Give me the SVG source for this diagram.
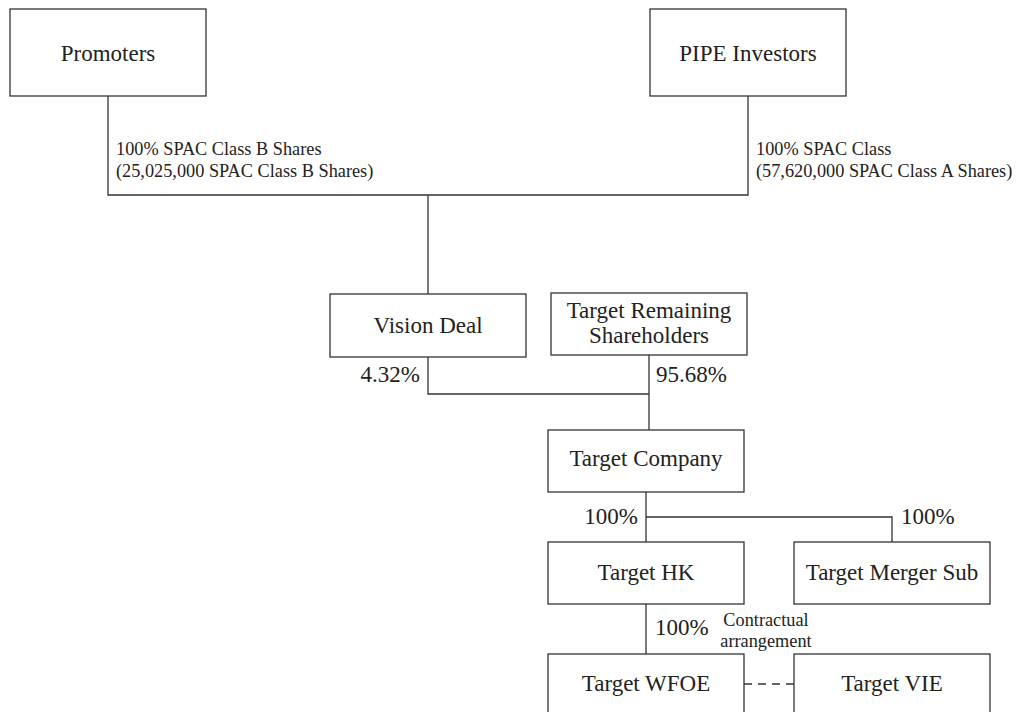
<svg xmlns="http://www.w3.org/2000/svg" width="1022" height="712" viewBox="0 0 1022 712">
  <style>
    .box { fill: #ffffff; stroke: #333333; stroke-width: 1.3; }
    .ln { fill: none; stroke: #333333; stroke-width: 1.3; }
    .dash { fill: none; stroke: #333333; stroke-width: 1.3; stroke-dasharray: 8 6; }
    .t { font-family: "Liberation Serif", "Times New Roman", serif; font-size: 23px; fill: #222222; text-anchor: middle; }
    .pct { font-family: "Liberation Serif", "Times New Roman", serif; font-size: 23px; fill: #222222; }
    .sm { font-family: "Liberation Serif", "Times New Roman", serif; font-size: 18.3px; fill: #222222; }
  </style>
  <rect width="1022" height="712" fill="#ffffff"/>

  <g id="connectors">
    <polyline class="ln" points="108,96 108,195 748,195 748,96"/>
    <line class="ln" x1="428" y1="195" x2="428" y2="294"/>
    <polyline class="ln" points="428,357 428,394 649,394"/>
    <line class="ln" x1="649" y1="355" x2="649" y2="430"/>
    <line class="ln" x1="646" y1="492" x2="646" y2="542"/>
    <polyline class="ln" points="646,517 892,517 892,542"/>
    <line class="ln" x1="646" y1="604" x2="646" y2="654"/>
    <line class="dash" x1="744" y1="684" x2="794" y2="684"/>
  </g>

  <g id="labels">
    <text class="sm" x="116" y="155">100% SPAC Class B Shares</text>
    <text class="sm" x="116" y="177">(25,025,000 SPAC Class B Shares)</text>
    <text class="sm" x="756" y="155">100% SPAC Class</text>
    <text class="sm" x="756" y="177">(57,620,000 SPAC Class A Shares)</text>
    <text class="pct" x="420" y="382" text-anchor="end">4.32%</text>
    <text class="pct" x="656" y="382">95.68%</text>
    <text class="pct" x="638" y="524" text-anchor="end">100%</text>
    <text class="pct" x="901" y="524">100%</text>
    <text class="pct" x="655" y="635">100%</text>
    <text class="sm" x="766" y="626" text-anchor="middle">Contractual</text>
    <text class="sm" x="766" y="647" text-anchor="middle">arrangement</text>
  </g>

  <g id="promoters">
    <rect class="box" x="10" y="9" width="196" height="87"/>
    <text class="t" x="108" y="61">Promoters</text>
  </g>
  <g id="pipe-investors">
    <rect class="box" x="650" y="9" width="196" height="87"/>
    <text class="t" x="748" y="61">PIPE Investors</text>
  </g>
  <g id="vision-deal">
    <rect class="box" x="330" y="294" width="196" height="63"/>
    <text class="t" x="428" y="333">Vision Deal</text>
  </g>
  <g id="target-remaining-shareholders">
    <rect class="box" x="551" y="293" width="196" height="62"/>
    <text class="t" x="649" y="318">Target Remaining</text>
    <text class="t" x="649" y="343">Shareholders</text>
  </g>
  <g id="target-company">
    <rect class="box" x="548" y="430" width="196" height="62"/>
    <text class="t" x="646" y="466">Target Company</text>
  </g>
  <g id="target-hk">
    <rect class="box" x="548" y="542" width="196" height="62"/>
    <text class="t" x="646" y="580">Target HK</text>
  </g>
  <g id="target-merger-sub">
    <rect class="box" x="794" y="542" width="196" height="62"/>
    <text class="t" x="892" y="580">Target Merger Sub</text>
  </g>
  <g id="target-wfoe">
    <rect class="box" x="548" y="654" width="196" height="80"/>
    <text class="t" x="646" y="691">Target WFOE</text>
  </g>
  <g id="target-vie">
    <rect class="box" x="794" y="654" width="196" height="80"/>
    <text class="t" x="892" y="691">Target VIE</text>
  </g>
</svg>
